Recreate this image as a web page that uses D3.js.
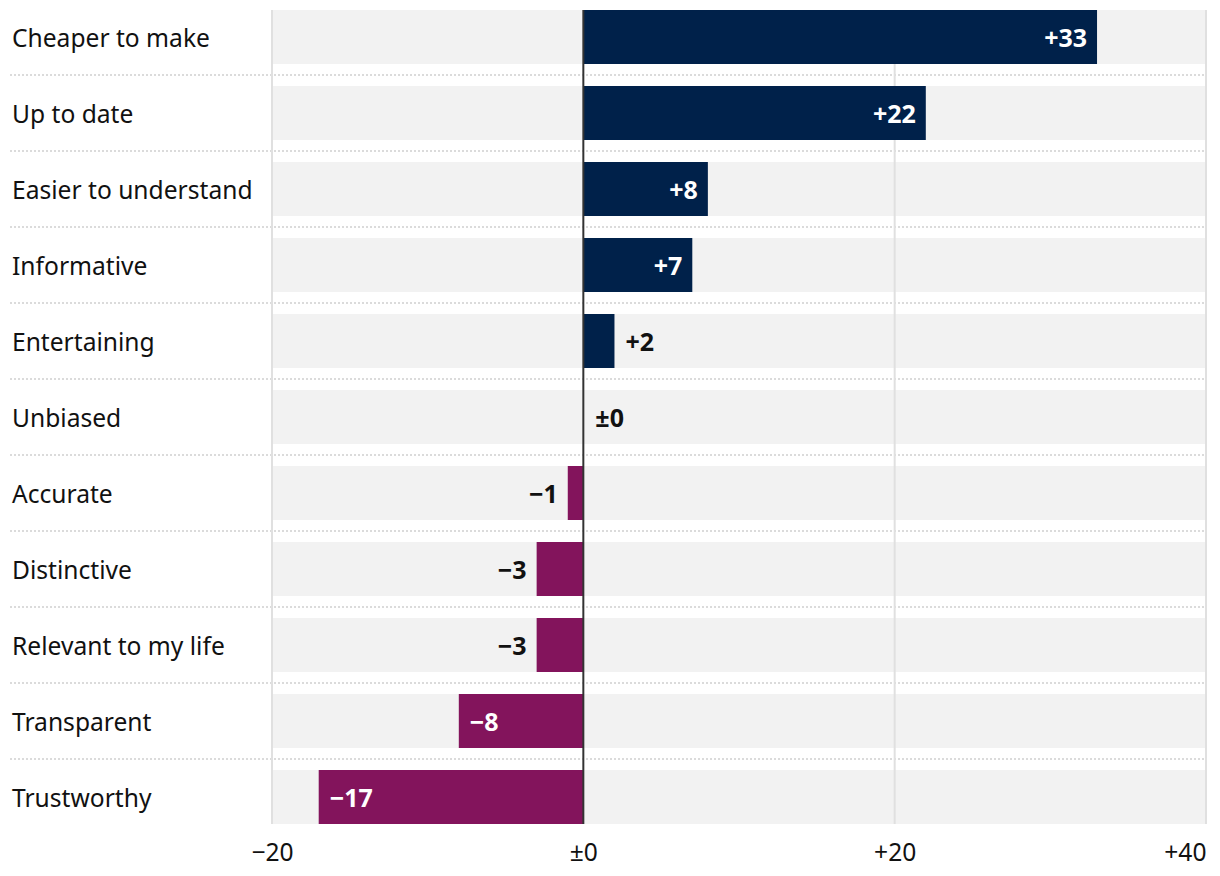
<!DOCTYPE html>
<html><head><meta charset="utf-8">
<script src="https://cdn.jsdelivr.net/npm/d3@7"></script>
<style>
html,body{margin:0;padding:0;background:#fff;}
svg{display:block;font-family:"Noto Sans","IBM Plex Sans",sans-serif;}
</style></head>
<body>
<svg id="chart" width="1220" height="876"></svg>
<script>
const categories = ["Cheaper to make","Up to date","Easier to understand","Informative","Entertaining","Unbiased","Accurate","Distinctive","Relevant to my life","Transparent","Trustworthy"];
const values = [33, 22, 8, 7, 2, 0, -1, -3, -3, -8, -17];
const tickValues = [-20, 0, 20, 40];
const tickLabels = ["\u221220", "\u00b10", "+20", "+40"];

(function(){
const svg = d3.select("#chart");
const mLeft = 272, mRight = 1206, mTop = 10, mBottom = 824;
const x = d3.scaleLinear().domain([-20, 40]).range([mLeft, mRight]);
const y = d3.scaleBand().domain(categories).range([mTop, mBottom]).paddingInner(22/76).paddingOuter(0);
const gap = y.step() - y.bandwidth();

const fmt = v => v > 0 ? "+" + v : (v < 0 ? "\u2212" + Math.abs(v) : "\u00b10");

// background bands
svg.append("g").selectAll("rect").data(categories).join("rect")
  .attr("x", mLeft).attr("width", mRight - mLeft)
  .attr("y", d => y(d)).attr("height", y.bandwidth())
  .attr("fill", "#f2f2f2");

// dotted separators
svg.append("g").selectAll("line").data(categories.slice(1)).join("line")
  .attr("x1", 10).attr("x2", mRight)
  .attr("y1", d => y(d) - gap/2).attr("y2", d => y(d) - gap/2)
  .attr("stroke", "#cfcfcf").attr("stroke-width", 1.5).attr("stroke-dasharray", "2,2");

// gridlines
svg.append("g").selectAll("line").data(tickValues.filter(t => t !== 0)).join("line")
  .attr("x1", d => x(d)).attr("x2", d => x(d))
  .attr("y1", mTop).attr("y2", mBottom)
  .attr("stroke", "#e0e0e0").attr("stroke-width", 2);

// bars
svg.append("g").selectAll("rect").data(values).join("rect")
  .attr("x", d => x(Math.min(0, d)))
  .attr("width", d => Math.abs(x(d) - x(0)))
  .attr("y", (d, i) => y(categories[i])).attr("height", y.bandwidth())
  .attr("fill", d => d >= 0 ? "#00214a" : "#83145c");

// zero line
svg.append("line").attr("x1", x(0)).attr("x2", x(0)).attr("y1", mTop).attr("y2", mBottom)
  .attr("stroke", "#333").attr("stroke-width", 2);

// category labels
svg.append("g").selectAll("text").data(categories).join("text")
  .attr("x", 12).attr("y", d => y(d) + y.bandwidth()/2 + 1)
  .attr("dy", "0.35em").attr("font-size", 24.6).attr("fill", "#111")
  .text(d => d);

// value labels
svg.append("g").selectAll("text").data(values).join("text")
  .attr("y", (d, i) => y(categories[i]) + y.bandwidth()/2 + 1)
  .attr("dy", "0.35em").attr("font-size", 25).attr("font-weight", 700)
  .each(function(d) {
    const t = d3.select(this);
    const w = Math.abs(x(d) - x(0));
    const inside = w > 60;
    if (d > 0) {
      if (inside) t.attr("x", x(d) - 10).attr("text-anchor", "end").attr("fill", "#fff");
      else t.attr("x", x(d) + 11).attr("text-anchor", "start").attr("fill", "#111");
    } else if (d < 0) {
      if (inside) t.attr("x", x(d) + 11).attr("text-anchor", "start").attr("fill", "#fff");
      else t.attr("x", x(d) - 10).attr("text-anchor", "end").attr("fill", "#111");
    } else {
      t.attr("x", x(0) + 12).attr("text-anchor", "start").attr("fill", "#111");
    }
  })
  .text(d => fmt(d));

// axis
const axis = d3.axisBottom(x).tickValues(tickValues).tickFormat((d, i) => tickLabels[i]).tickSize(0).tickPadding(0);
const ag = svg.append("g").attr("transform", `translate(0,${mBottom})`).call(axis);
ag.select(".domain").remove();
ag.selectAll("text").attr("font-size", 24.6).attr("fill", "#111")
  .attr("font-family", '"Noto Sans","IBM Plex Sans",sans-serif')
  .attr("y", 28).attr("dy", "0.35em")
  .attr("text-anchor", (d, i) => i === tickValues.length - 1 ? "end" : "middle");
})();
</script>
</body></html>
